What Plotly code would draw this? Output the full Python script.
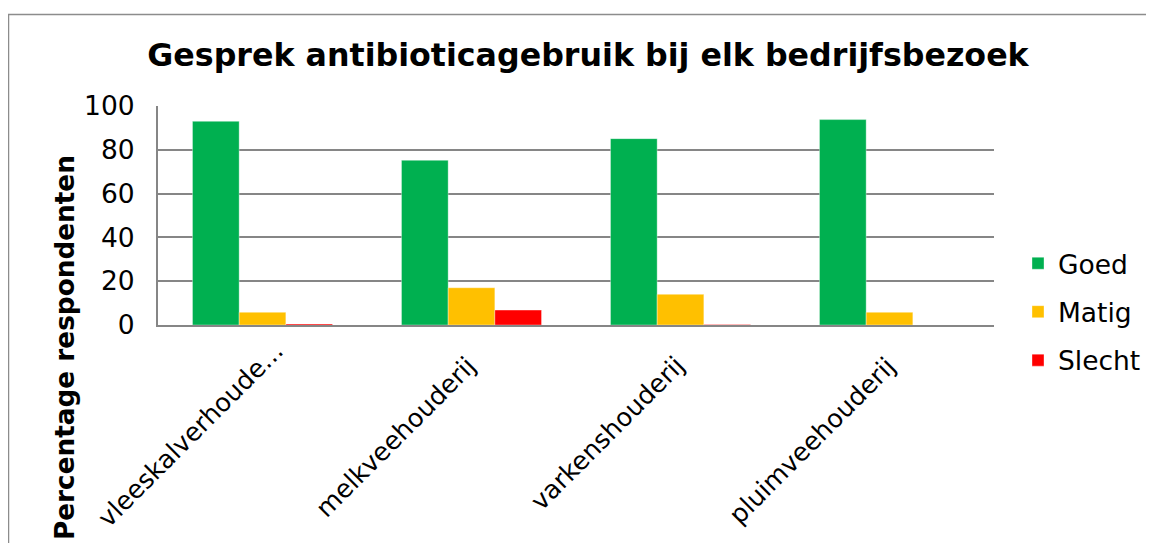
import plotly.graph_objects as go

categories = ["vleeskalverhoude...", "melkveehouderij", "varkenshouderij", "pluimveehouderij"]
series_names = ["Goed", "Matig", "Slecht"]
goed = [93.0, 75.2, 85.1, 93.8]
matig = [5.8, 17.0, 14.0, 5.8]
slecht = [0.5, 6.8, 0.2, 0.0]
colors = ["#00B050", "#FFC000", "#FF0000"]
y_ticks = [0, 20, 40, 60, 80, 100]

FONT = "DejaVu Sans, Verdana, sans-serif"
W, H = 1146, 535          # page has an 8px body margin
ML, MR, MT, MB = 150, 160, 98, 218
PW, PH = W - ML - MR, H - MT - MB   # plot area 836 x 219

fig = go.Figure()
for name, vals, col in zip(series_names, [goed, matig, slecht], colors):
    fig.add_trace(go.Bar(
        x=categories, y=vals, name=name, legendgroup=name,
        marker=dict(color=col, line=dict(color="rgba(255,255,255,0.35)", width=1)),
    ))

# category labels as rotated annotations; centre offset (px) from the category tick
label_shift = {
    "vleeskalverhoude...": (-72, -109),
    "melkveehouderij": (-76, -112),
    "varkenshouderij": (-73, -108),
    "pluimveehouderij": (-78, -116),
}
annotations = []
for c in categories:
    dx, dy = label_shift[c]
    annotations.append(dict(
        text=c, x=c, xref="x", y=0, yref="paper",
        xanchor="center", yanchor="middle", textangle=-45,
        xshift=dx, yshift=dy, showarrow=False,
        font=dict(family=FONT, size=25.5, color="black"),
    ))
annotations.append(dict(
    text="<b>Percentage respondenten</b>", textangle=-90,
    xref="paper", yref="paper",
    x=(57 - ML) / PW, y=(MT + PH - 340) / PH,
    xanchor="center", yanchor="middle", showarrow=False,
    font=dict(family=FONT, size=26.3, color="black"),
))

fig.update_layout(
    width=W, height=H,
    margin=dict(l=ML, r=MR, t=MT, b=MB, autoexpand=False),
    paper_bgcolor="white", plot_bgcolor="white",
    barmode="group", bargap=0.33, bargroupgap=0,
    font=dict(family=FONT, size=26.5, color="black"),
    title=dict(text="<b>Gesprek antibioticagebruik bij elk bedrijfsbezoek</b>",
               x=(588 - 8) / W, xref="container", xanchor="center",
               y=1 - 47 / H, yref="container", yanchor="middle",
               font=dict(family=FONT, size=31.7, color="black")),
    showlegend=True,
    legend=dict(x=(1018 - 8 - ML) / PW, xanchor="left",
                y=(MT + PH - 304) / PH, yanchor="middle",
                traceorder="grouped", tracegroupgap=11, itemwidth=30,
                font=dict(family=FONT, size=26.5, color="black"),
                bgcolor="rgba(0,0,0,0)"),
    xaxis=dict(
        type="category", range=[-0.5, len(categories) - 0.5], autorange=False,
        showgrid=False, showticklabels=False,
        showline=True, linecolor="#868686", linewidth=2, ticks="",
    ),
    yaxis=dict(
        range=[0, 100], autorange=False,
        tickvals=y_ticks, ticktext=[str(v) for v in y_ticks],
        showgrid=True, gridcolor="#868686", gridwidth=2,
        showline=True, linecolor="#868686", linewidth=2,
        zeroline=False, ticks="", ticklabelstandoff=16,
        tickfont=dict(family=FONT, size=26.5, color="black"),
    ),
    annotations=annotations,
    shapes=[dict(
        type="rect", xref="paper", yref="paper",
        x0=(0.5 - ML) / PW, x1=(W + 30 - ML) / PW,
        y0=(MT + PH - (H + 50)) / PH, y1=(MT + PH - 6.5) / PH,
        line=dict(color="#8C8C8C", width=1.5), fillcolor="rgba(0,0,0,0)",
        layer="below",
    )],
)

fig.write_html("out.html")
